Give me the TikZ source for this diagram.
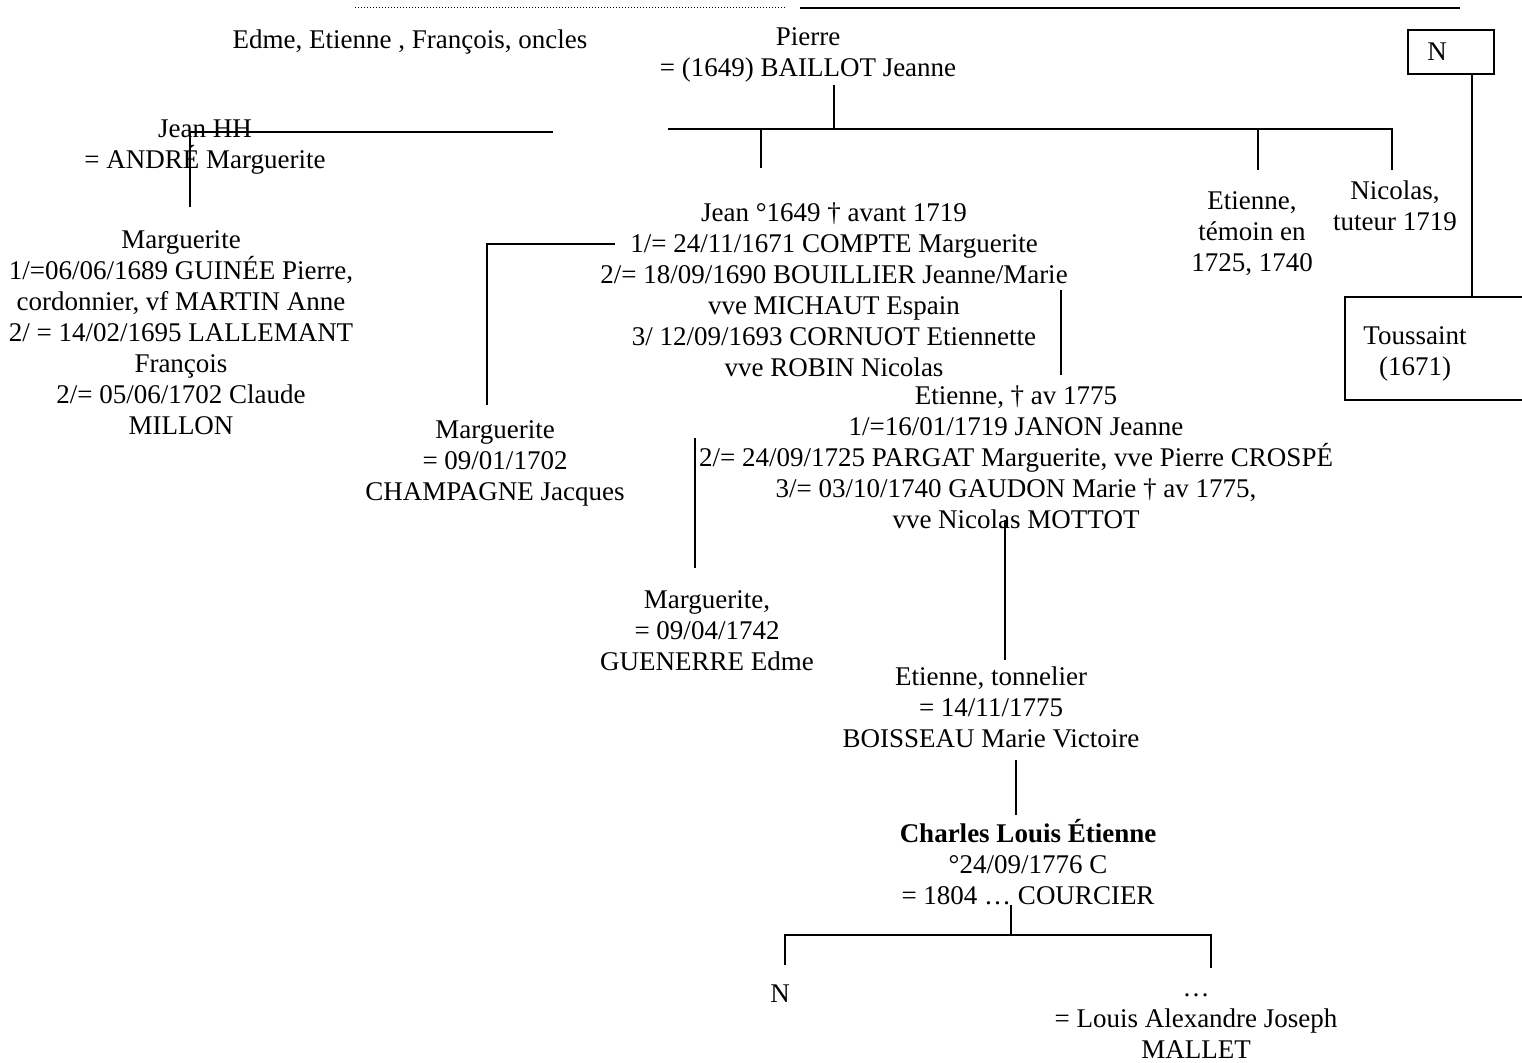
\documentclass[tikz,border=0pt]{standalone}
\usepackage{fontspec}
\setmainfont{Liberation Serif}
\begin{document}
\begin{tikzpicture}[x=1pt,y=-1pt,
  txt/.style={align=center, inner sep=0pt, anchor=north, font=\fontsize{27}{31}\selectfont, execute at begin node=\strut},
  ln/.style={line width=1.3pt},
  boxed/.style={draw, line width=1.3pt}]
\useasboundingbox (0,0) rectangle (1522,1062);
% text nodes
\node[txt] (edme) at (410,27) {Edme, Etienne , François, oncles};
\node[txt] (pierre) at (808,27) {Pierre\\= (1649) BAILLOT Jeanne};
\node[txt] (jeanhh) at (205,120) {Jean HH\\= ANDRÉ Marguerite};
\node[txt] (marg1) at (181,230) {Marguerite\\1/=06/06/1689 GUINÉE Pierre,\\cordonnier, vf MARTIN Anne\\2/ = 14/02/1695 LALLEMANT\\François\\2/= 05/06/1702 Claude\\MILLON};
\node[txt] (jean) at (834,203) {Jean °1649 † avant 1719\\1/= 24/11/1671 COMPTE Marguerite\\2/= 18/09/1690 BOUILLIER Jeanne/Marie\\vve MICHAUT Espain\\3/ 12/09/1693 CORNUOT Etiennette\\vve ROBIN Nicolas};
\node[txt] (etien1) at (1252,191) {Etienne,\\témoin en\\1725, 1740};
\node[txt] (nicolas) at (1395,181) {Nicolas,\\tuteur 1719};
\node[txt] (marg2) at (495,420) {Marguerite\\= 09/01/1702\\CHAMPAGNE Jacques};
\node[txt] (etien2) at (1016,386) {Etienne, † av 1775\\1/=16/01/1719 JANON Jeanne\\2/= 24/09/1725 PARGAT Marguerite, vve Pierre CROSPÉ\\3/= 03/10/1740 GAUDON Marie † av 1775,\\vve Nicolas MOTTOT};
\node[txt] (marg3) at (707,590) {Marguerite,\\= 09/04/1742\\GUENERRE Edme};
\node[txt] (tonn) at (991,667) {Etienne, tonnelier\\= 14/11/1775\\BOISSEAU Marie Victoire};
\node[txt] (charles) at (1028,819) {\textbf{Charles Louis Étienne}\\°24/09/1776 C\\= 1804 … COURCIER};
\node[txt] (nchild) at (780,981) {N};
\node[txt] (mallet) at (1196,993) {…\\= Louis Alexandre Joseph\\MALLET};
\node[txt] (touss) at (1415,326) {Toussaint\\(1671)};
\node[txt] (ntop) at (1437,39) {N};
% boxes
\draw[boxed] (1408,30) rectangle (1494,74);
\draw[boxed] (1345,297) rectangle (1530,400);
% coordinates
\coordinate (d1) at (355,8); \coordinate (d2) at (785,8);
\coordinate (s1) at (800,8); \coordinate (s2) at (1460,8);
\coordinate (nb) at (1472,74); \coordinate (tb) at (1472,297);
\coordinate (p1) at (834,85); \coordinate (p2) at (834,129);
\coordinate (h1) at (668,129); \coordinate (h2) at (1392,129);
\coordinate (a1) at (761,129); \coordinate (a2) at (761,168);
\coordinate (b1) at (1258,129); \coordinate (b2) at (1258,170);
\coordinate (c2) at (1392,170);
\coordinate (j1) at (190,132); \coordinate (j2) at (553,132); \coordinate (j3) at (190,207);
\coordinate (m1) at (615,244); \coordinate (m2) at (487,244); \coordinate (m3) at (487,405);
\coordinate (e1) at (1061,290); \coordinate (e2) at (1061,375);
\coordinate (g1) at (695,438); \coordinate (g2) at (695,568);
\coordinate (t1) at (1005,520); \coordinate (t2) at (1005,660);
\coordinate (k1) at (1016,760); \coordinate (k2) at (1016,815);
\coordinate (q1) at (1011,905); \coordinate (q2) at (1011,935);
\coordinate (r1) at (785,935); \coordinate (r2) at (1211,935);
\coordinate (r3) at (785,965); \coordinate (r4) at (1211,968);
% lines
\draw[dotted, line width=1pt] (d1) -- (d2);
\draw[ln] (s1) -- (s2);
\draw[ln] (nb) -- (tb);
\draw[ln] (p1) -- (p2);
\draw[ln] (h1) -- (h2) -- (c2);
\draw[ln] (a1) -- (a2);
\draw[ln] (b1) -- (b2);
\draw[ln] (j1) -- (j2);
\draw[ln] (j1) -- (j3);
\draw[ln] (m1) -- (m2) -- (m3);
\draw[ln] (e1) -- (e2);
\draw[ln] (g1) -- (g2);
\draw[ln] (t1) -- (t2);
\draw[ln] (k1) -- (k2);
\draw[ln] (q1) -- (q2);
\draw[ln] (r3) -- (r1) -- (r2) -- (r4);
\end{tikzpicture}
\end{document}
